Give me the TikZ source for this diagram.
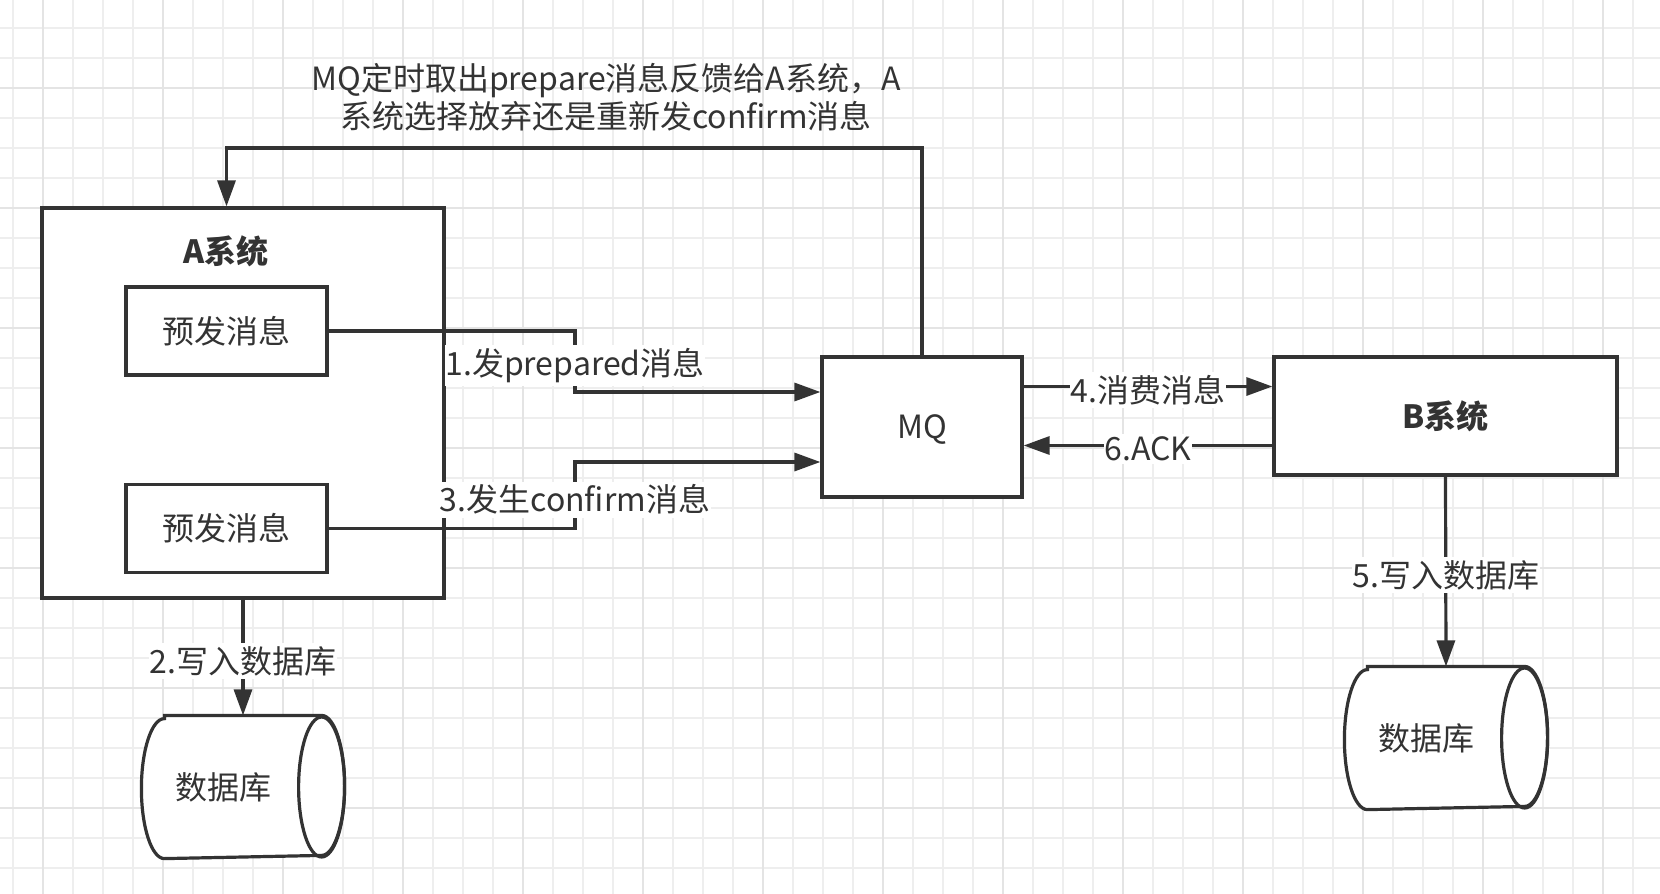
\documentclass[tikz,border=0pt]{standalone}
\usepackage{fontspec}
\setmainfont{Noto Sans CJK SC}
\usetikzlibrary{arrows.meta}
\definecolor{ink}{HTML}{333333}
\definecolor{gridc}{HTML}{EEEEEE}
\definecolor{gridm}{HTML}{E4E4E4}

\begin{document}
\begin{tikzpicture}[x=0.5pt, y=-0.5pt, line width=1.6pt, color=ink,
    every node/.style={font=\fontsize{16pt}{19pt}\selectfont},
    box/.style={draw, rectangle, fill=white, inner sep=0pt},
    lbl/.style={fill=white, inner xsep=0.3pt, inner ysep=1.5pt, yshift=-1.8pt},
    arr/.style={-{Triangle[length=13pt,width=9pt]}},
    dbbox/.style={rectangle, inner sep=0pt, minimum width=100pt, minimum height=70pt},
    gridln/.style={line width=0.75pt, draw=gridc},
    gridmaj/.style={line width=0.75pt, draw=gridm}]
    % background grid
    \fill[white] (0,0) rectangle (1660,894);
    \useasboundingbox (0,0) rectangle (1660,894);
    \foreach \gx in {13,43,...,1653} \draw[gridln] (\gx,0) -- (\gx,894);
    \foreach \gy in {28,58,...,888} \draw[gridln] (0,\gy) -- (1660,\gy);
    \foreach \gx in {43,163,...,1603} \draw[gridmaj] (\gx,0) -- (\gx,894);
    \foreach \gy in {88,208,...,808} \draw[gridmaj] (0,\gy) -- (1660,\gy);

    % A system
    \node[box, minimum width=201pt, minimum height=195pt] (asys) at (243,403) {};
    \node[font=\fontsize{16pt}{19pt}\selectfont\bfseries] (atitle) at (226,251) {A系统};
    \node[box, minimum width=100.5pt, minimum height=44pt] (msg1) at (226.5,331) {预发消息};
    \node[box, minimum width=100.5pt, minimum height=44pt] (msg2) at (226.5,528.5) {预发消息};

    % MQ and B system
    \node[box, minimum width=100pt, minimum height=70pt, text depth=0pt] (mq) at (922,427) {MQ};
    \node[box, minimum width=171.5pt, minimum height=59pt,
        font=\fontsize{16pt}{19pt}\selectfont\bfseries] (bsys) at (1445.5,416) {B系统};

    % databases (cylinder lying on its side)
    \foreach \nm/\cx/\cy in {dba/243/787, dbb/1446/738}{
        \node[dbbox] (\nm) at (\cx,\cy) {};
        \draw[fill=white] ([xshift=11.5pt]\nm.north west) -- ([xshift=-11.5pt]\nm.north east)
            arc[start angle=90, end angle=-90, x radius=11.5pt, y radius=35pt]
            -- ([xshift=11.5pt]\nm.south west)
            arc[start angle=270, end angle=90, x radius=11.5pt, y radius=35pt] -- cycle;
        \draw ([xshift=-11.5pt]\nm.east) ellipse [x radius=11.5pt, y radius=35pt];
        \node (\nm txt) at ([xshift=-10pt]\nm.center) {数据库};
    }

    % connectors
    \coordinate (fbk) at (226.5,148);
    \draw[arr] (mq.north) |- (fbk) -- (asys.north -| msg1.north);
    \node[align=center] (fbtext) at (606,97) {MQ定时取出prepare消息反馈给A系统，A\\系统选择放弃还是重新发confirm消息};

    \draw[arr] (msg1.east) -| (575,362) node[lbl] {1.发prepared消息} |- ([yshift=17.5pt]mq.west);
    \draw[arr] (msg2.east) -| (575,496) node[lbl] {3.发生confirm消息} |- ([yshift=-17.5pt]mq.west);
    \draw[arr] ([yshift=14.75pt]bsys.west -| mq.east) -- ([yshift=14.75pt]bsys.west)
        node[midway, lbl] {4.消费消息};
    \draw[arr] ([yshift=-14.75pt]bsys.west) -- ([yshift=-14.75pt]bsys.west -| mq.east)
        node[midway, lbl] {6.ACK};
    \draw[arr] (asys.south) -- (dba.north) node[midway, lbl] {2.写入数据库};
    \draw[arr] (bsys.south) -- (dbb.north) node[midway, lbl] {5.写入数据库};
\end{tikzpicture}
\end{document}
